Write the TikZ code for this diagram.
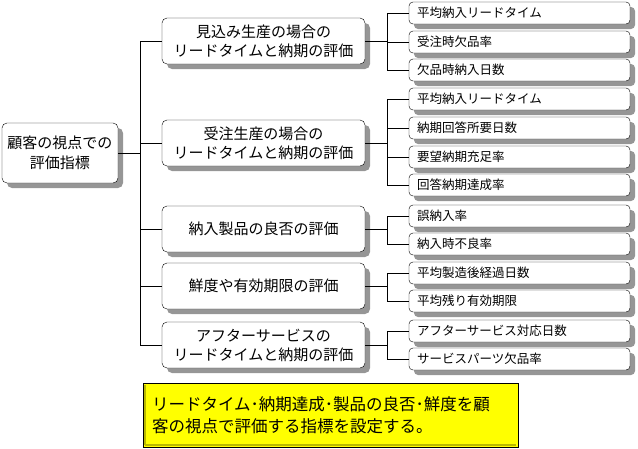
\documentclass[tikz,border=0pt]{standalone}
\usepackage{fontspec}
\setmainfont{Noto Sans CJK JP}
\usetikzlibrary{shadows}
\definecolor{ShadowGray}{RGB}{150,150,150}
\definecolor{NoteYellow}{RGB}{255,255,0}
\definecolor{BevelYellow}{RGB}{185,185,0}

\begin{document}
\begin{tikzpicture}[
    x=1pt, y=-1pt,
    box/.style={draw=black, fill=white, rounded corners=5pt, align=center,
        drop shadow={shadow xshift=5pt, shadow yshift=-5pt, fill=ShadowGray, opacity=1}},
    rootbox/.style={box, minimum width=116pt, minimum height=60pt, inner sep=2pt, font=\fontsize{15}{20}\selectfont},
    groupbox/.style={box, minimum width=203pt, minimum height=46pt, inner sep=2pt, font=\fontsize{15}{19}\selectfont},
    leafbox/.style={box, rounded corners=4pt, minimum height=22pt, text width=205pt, inner xsep=8pt, inner ysep=0pt, align=left, font=\fontsize{12.5}{14}\selectfont},
    notebox/.style={draw=black, line width=0.8pt, fill=NoteYellow, minimum height=64pt, text width=357pt, inner xsep=9pt, align=left, font=\fontsize{16.5}{22}\selectfont},
    link/.style={draw=black, line width=0.8pt}
]
\useasboundingbox (0,0) rectangle (638,448);

% root
\node[rootbox] (root) at (60,153) {顧客の視点での\\評価指標};

% viewpoints
\node[groupbox] (g1) at (263.5,41) {見込み生産の場合の\\リードタイムと納期の評価};
\node[groupbox] (g2) at (263.5,143) {受注生産の場合の\\リードタイムと納期の評価};
\node[groupbox] (g3) at (263.5,229) {納入製品の良否の評価};
\node[groupbox] (g4) at (263.5,286) {鮮度や有効期限の評価};
\node[groupbox] (g5) at (263.5,345) {アフターサービスの\\リードタイムと納期の評価};

% indicators
\node[leafbox] (l1)  at (519.5,13)  {平均納入リードタイム};
\node[leafbox] (l2)  at (519.5,42)  {受注時欠品率};
\node[leafbox] (l3)  at (519.5,70)  {欠品時納入日数};
\node[leafbox] (l4)  at (519.5,99)  {平均納入リードタイム};
\node[leafbox] (l5)  at (519.5,128) {納期回答所要日数};
\node[leafbox] (l6)  at (519.5,157) {要望納期充足率};
\node[leafbox] (l7)  at (519.5,185) {回答納期達成率};
\node[leafbox] (l8)  at (519.5,216) {誤納入率};
\node[leafbox] (l9)  at (519.5,244) {納入時不良率};
\node[leafbox] (l10) at (519.5,273) {平均製造後経過日数};
\node[leafbox] (l11) at (519.5,301) {平均残り有効期限};
\node[leafbox] (l12) at (519.5,331) {アフターサービス対応日数};
\node[leafbox] (l13) at (519.5,359) {サービスパーツ欠品率};

% connectors
\coordinate (j0) at (140,153);
\draw[link] (root.east) -- (j0);
\foreach \g in {g1,g2,g3,g4,g5}
    \draw[link] (j0) |- (\g.west);

\foreach \g/\leaves in {g1/{l1,l2,l3}, g2/{l4,l5,l6,l7}, g3/{l8,l9}, g4/{l10,l11}, g5/{l12,l13}} {
    \coordinate (j-\g) at ([xshift=22pt]\g.east);
    \draw[link] (\g.east) -- (j-\g);
    \foreach \l in \leaves
        \draw[link] (j-\g) |- (\l.west);
}

% summary
\node[notebox] (note) at (330.5,415) {リードタイム･納期達成･製品の良否･鮮度を顧\\客の視点で評価する指標を設定する。};
\draw[BevelYellow, line width=2pt] ([shift={(2.5pt,2.5pt)}]note.south west) -- ([shift={(2.5pt,-2.5pt)}]note.north west);
\draw[BevelYellow, line width=2pt] ([shift={(2.5pt,2.5pt)}]note.south west) -- ([shift={(-2.5pt,2.5pt)}]note.south east);
\end{tikzpicture}
\end{document}
